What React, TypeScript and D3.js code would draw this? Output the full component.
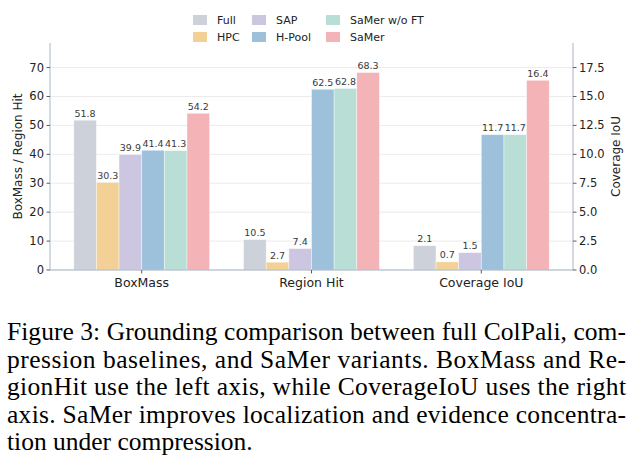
import React from "react";
import * as d3 from "d3";

const categories = ["BoxMass", "Region Hit", "Coverage IoU"];
const methods = ["Full", "HPC", "SAP", "H-Pool", "SaMer w/o FT", "SaMer"];
const colors = ["#cdd1d9", "#f2d096", "#cdc6e0", "#9dc0db", "#b9ded6", "#f4b3b6"];
// values[method][category]; Coverage IoU uses the right axis
const fullVals = [51.8, 10.5, 2.1];
const hpcVals = [30.3, 2.7, 0.7];
const sapVals = [39.9, 7.4, 1.5];
const hpoolVals = [41.4, 62.5, 11.7];
const samerNoFtVals = [41.3, 62.8, 11.7];
const samerVals = [54.2, 68.3, 16.4];
const values = [fullVals, hpcVals, sapVals, hpoolVals, samerNoFtVals, samerVals];
const leftTicks = [0, 10, 20, 30, 40, 50, 60, 70];
const rightTicks = [0, 2.5, 5, 7.5, 10, 12.5, 15, 17.5];

const captionLines = [
  "Figure 3: Grounding comparison between full ColPali, com-",
  "pression baselines, and SaMer variants. BoxMass and Re-",
  "gionHit use the left axis, while CoverageIoU uses the right",
  "axis. SaMer improves localization and evidence concentra-",
  "tion under compression.",
];

const sans = { fontFamily: '"DejaVu Sans", sans-serif' };
const serif = { fontFamily: '"Liberation Serif", serif' };
const spine = "#aab5c3";

export default function App() {
  const margin = { left: 50, right: 573, top: 43, bottom: 270 };
  const barW = 0.8 / methods.length;
  const x = d3.scaleLinear([-0.54, 2.54], [margin.left, margin.right]);
  const yL = d3.scaleLinear([0, 78.5], [margin.bottom, margin.top]);
  const yR = d3.scaleLinear([0, 78.5 / 4], [margin.bottom, margin.top]);
  const pw = x(barW) - x(0);

  const bars = [];
  values.forEach((vals, mi) => {
    vals.forEach((v, ci) => {
      const y = ci === 2 ? yR : yL;
      const cx = ci + (mi - (methods.length - 1) / 2) * barW;
      const x0 = x(cx) - pw / 2;
      bars.push(
        <g key={`${mi}-${ci}`}>
          <rect x={x0} y={y(v)} width={pw} height={margin.bottom - y(v)} fill={colors[mi]} stroke="#ffffff" strokeOpacity={0.5} strokeWidth={0.8} />
          <text x={x(cx)} y={y(v) - 3.5} textAnchor="middle" fontSize={9.5} fill="#3a3a3a" style={sans}>{v.toFixed(1)}</text>
        </g>
      );
    });
  });

  const legendPos = [
    [193, 20], [193, 37], [252, 20], [252, 37], [326, 20], [326, 37],
  ];

  return (
    <svg width={635} height={465} style={{ position: "absolute", left: 0, top: 0 }}>
      <rect width={635} height={465} fill="#fff" />
      {leftTicks.map(t => (
        <line key={t} x1={margin.left} x2={margin.right} y1={yL(t)} y2={yL(t)} stroke="#e6e6e6" strokeWidth={0.8} />
      ))}
      {bars}
      {/* spines */}
      <line x1={margin.left} x2={margin.left} y1={margin.top} y2={margin.bottom} stroke={spine} strokeWidth={1} />
      <line x1={margin.right} x2={margin.right} y1={margin.top} y2={margin.bottom} stroke={spine} strokeWidth={1} />
      <line x1={margin.left} x2={margin.right} y1={margin.bottom} y2={margin.bottom} stroke={spine} strokeWidth={1} />
      {leftTicks.map(t => (
        <g key={`l${t}`}>
          <line x1={margin.left - 3.5} x2={margin.left} y1={yL(t)} y2={yL(t)} stroke="#333" strokeWidth={0.8} />
          <text x={margin.left - 6} y={yL(t) + 4} textAnchor="end" fontSize={11.5} style={sans} fill="#222">{t}</text>
        </g>
      ))}
      {rightTicks.map(t => (
        <g key={`r${t}`}>
          <line x1={margin.right} x2={margin.right + 3.5} y1={yR(t)} y2={yR(t)} stroke="#333" strokeWidth={0.8} />
          <text x={margin.right + 6} y={yR(t) + 4} textAnchor="start" fontSize={11.5} style={sans} fill="#222">{t.toFixed(1)}</text>
        </g>
      ))}
      {categories.map((c, i) => (
        <g key={c}>
          <line x1={x(i)} x2={x(i)} y1={margin.bottom} y2={margin.bottom + 3.5} stroke="#333" strokeWidth={0.8} />
          <text x={x(i)} y={margin.bottom + 17} textAnchor="middle" fontSize={12.5} style={sans} fill="#222">{c}</text>
        </g>
      ))}
      <text transform={`translate(22,${(margin.top + margin.bottom) / 2}) rotate(-90)`} textAnchor="middle" fontSize={12} style={sans} fill="#222">BoxMass / Region Hit</text>
      <text transform={`translate(620,${(margin.top + margin.bottom) / 2}) rotate(-90)`} textAnchor="middle" fontSize={12} style={sans} fill="#222">Coverage IoU</text>
      {methods.map((m, i) => (
        <g key={m}>
          <rect x={legendPos[i][0]} y={legendPos[i][1] - 5} width={14} height={10} fill={colors[i]} />
          <text x={legendPos[i][0] + 24} y={legendPos[i][1] + 4} fontSize={11} style={sans} fill="#222">{m}</text>
        </g>
      ))}
      {captionLines.map((l, i) => (
        <text key={i} x={7} y={340 + i * 27.5} fontSize={25.5} style={serif} fill="#000"
          {...(i < captionLines.length - 1 ? { textLength: 619, lengthAdjust: "spacing" } : {})}>{l}</text>
      ))}
    </svg>
  );
}
